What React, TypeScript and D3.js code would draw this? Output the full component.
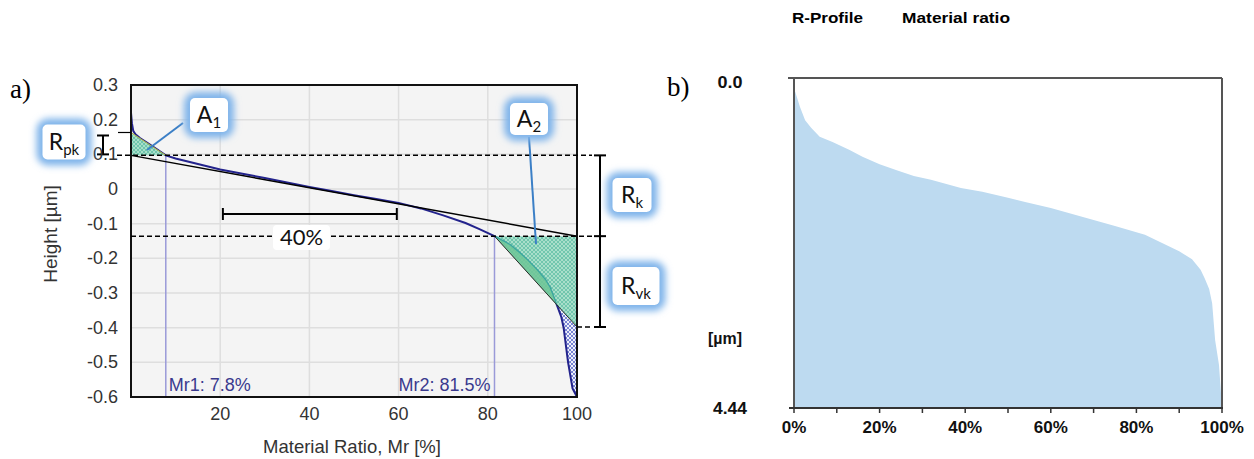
import React from 'react';
import * as d3 from 'd3';

// ---- panel a: Abbott-Firestone curve
const heightTicks = [0.3, 0.2, 0.1, 0, -0.1, -0.2, -0.3, -0.4, -0.5, -0.6];
const ratioTicks = [20, 40, 60, 80, 100];
const abbottMr = [0, 0.2, 0.5, 1, 2, 4, 6, 7.8, 10, 15, 20, 25, 30, 35, 40, 45, 50, 55, 60, 65, 70, 75, 78, 81.5, 85, 87.2, 89, 91, 93, 94, 95.5, 96.5, 97, 98, 99, 99.6, 100];
const abbottHeight = [0.22, 0.19, 0.168, 0.158, 0.147, 0.130, 0.113, 0.097, 0.088, 0.072, 0.056, 0.044, 0.032, 0.019, 0.006, -0.006, -0.018, -0.029, -0.040, -0.056, -0.076, -0.098, -0.115, -0.136, -0.160, -0.184, -0.205, -0.232, -0.262, -0.284, -0.335, -0.37, -0.40, -0.50, -0.575, -0.59, -0.60];
const mr1 = 7.8;
const mr2 = 81.5;
const crossMr = 95.5; // where the A2 hypotenuse meets the curve
const rpkTop = 0.163;
const rkTop = 0.097;
const rkBottom = -0.136;
const rvkBottom = -0.398;
const spanStart = 20.6;
const spanEnd = 59.6;

// ---- panel b: material ratio of the R-profile
const ratioB = [0, 0.3, 1.4, 2.6, 4, 6, 9, 13, 16, 20, 24, 28, 32, 39, 44, 50, 54, 60, 65, 70, 75, 82, 86, 90, 93, 95, 96, 97, 97.7, 98.4, 99.3, 99.8, 100];
const depthB = [0.16, 0.19, 0.39, 0.57, 0.67, 0.79, 0.86, 0.97, 1.06, 1.16, 1.24, 1.32, 1.37, 1.48, 1.53, 1.61, 1.67, 1.75, 1.83, 1.91, 1.99, 2.11, 2.22, 2.33, 2.44, 2.58, 2.70, 2.84, 3.03, 3.53, 3.86, 4.27, 4.44];
const percentTicks = [0, 20, 40, 60, 80, 100];
const minorTicks = [0, 10, 20, 30, 40, 50, 60, 70, 80, 90, 100];

const axisFont = '"Liberation Sans", Arial, sans-serif';
const calloutFont = 'Lato, "Open Sans", sans-serif';
const narrowFont = '"Liberation Sans Narrow", "Liberation Sans", Arial, sans-serif';

function Callout({ cx, cy, w, h, main, sub }) {
  return (
    <g>
      <rect x={cx - w / 2 - 6} y={cy - h / 2 - 6} width={w + 12} height={h + 12} rx={12}
        fill="#7fb4ea" filter="url(#glow)" />
      <rect x={cx - w / 2} y={cy - h / 2} width={w} height={h} rx={5} fill="#fff" />
      <text x={cx} y={cy + 8} textAnchor="middle" fontFamily={calloutFont} fontSize={23} fill="#111">
        {main}
        <tspan fontSize={15} dy={5}>{sub}</tspan>
      </text>
    </g>
  );
}

export default function App() {
  const xA = d3.scaleLinear().domain([0, 100]).range([131, 577]);
  const yA = d3.scaleLinear().domain([-0.6, 0.3]).range([397, 85]);
  const xB = d3.scaleLinear().domain([0, 100]).range([794, 1222]);
  const yB = d3.scaleLinear().domain([0, 4.44]).range([78, 408]);

  const pts = abbottMr.map((m, i) => [m, abbottHeight[i]]);
  const line = d3.line().x(d => xA(d[0])).y(d => yA(d[1]));
  const wedge = pts.filter(d => d[0] >= mr2 && d[0] <= crossMr);
  const tail = pts.filter(d => d[0] >= crossMr).concat([[100, rvkBottom]]);

  const areaB = d3.area()
    .x(d => xB(d[0]))
    .y0(yB(4.44))
    .y1(d => yB(d[1]));
  const ptsB = ratioB.map((m, i) => [m, depthB[i]]);

  const x0 = xA(0), x100 = xA(100);
  const bx = 600;

  return (
    <svg width={1254} height={459} style={{ position: 'absolute', left: 0, top: 0, background: '#fff' }}>
      <defs>
        <filter id="glow" x="-50%" y="-50%" width="200%" height="200%">
          <feGaussianBlur stdDeviation="3.5" />
        </filter>
        <pattern id="hatchGreen" width="4" height="4" patternUnits="userSpaceOnUse">
          <rect width="4" height="4" fill="#9fdcc4" />
          <path d="M0,0 L4,4 M4,0 L0,4" stroke="#4fb99c" strokeWidth="0.8" />
        </pattern>
        <pattern id="hatchBlue" width="4" height="4" patternUnits="userSpaceOnUse">
          <rect width="4" height="4" fill="#eef0fa" />
          <path d="M0,0 L4,4 M4,0 L0,4" stroke="#5a68c8" strokeWidth="0.8" />
        </pattern>
      </defs>

      {/* ---------- panel a ---------- */}
      <text x={10} y={98} fontFamily='"Liberation Serif", "Times New Roman", serif' fontSize={27}>a)</text>
      <rect x={x0} y={yA(0.3)} width={x100 - x0} height={yA(-0.6) - yA(0.3)} fill="#f4f4f4" />
      {heightTicks.slice(1, -1).map(t => (
        <line key={'hg' + t} x1={x0} x2={x100} y1={yA(t)} y2={yA(t)} stroke="#dedede" strokeWidth={1.5} />
      ))}
      {ratioTicks.slice(0, -1).map(t => (
        <line key={'vg' + t} x1={xA(t)} x2={xA(t)} y1={yA(0.3)} y2={yA(-0.6)} stroke="#dedede" strokeWidth={1.5} />
      ))}

      {/* Mr markers */}
      <line x1={xA(mr1)} x2={xA(mr1)} y1={yA(rkTop)} y2={yA(-0.6)} stroke="#9a9ad8" strokeWidth={1.5} />
      <line x1={xA(mr2)} x2={xA(mr2)} y1={yA(rkBottom)} y2={yA(-0.6)} stroke="#9a9ad8" strokeWidth={1.5} />

      {/* hatched area under the tail */}
      <path d={line(tail) + 'Z'} fill="url(#hatchBlue)" />

      {/* Abbott curve */}
      <path d={line(pts)} fill="none" stroke="#23238c" strokeWidth={2} />

      {/* A1 and A2 triangles */}
      <path d={line([[0, rpkTop], [0, rkTop], [mr1, rkTop]]) + 'Z'} fill="url(#hatchGreen)" opacity={0.9} />
      <line x1={xA(0)} y1={yA(rpkTop)} x2={xA(mr1)} y2={yA(rkTop)} stroke="#b8b840" strokeWidth={1} />
      <path d={line([[mr2, rkBottom], [100, rkBottom], [100, rvkBottom]]) + 'Z'} fill="url(#hatchGreen)" opacity={0.88} />
      <path d={line(wedge) + 'Z'} fill="#6fc597" opacity={0.85} />
      <path d={line(wedge)} fill="none" stroke="#3aa8a0" strokeWidth={1.2} />
      <line x1={xA(mr2)} y1={yA(rkBottom)} x2={xA(100)} y2={yA(rvkBottom)} stroke="#2b2b2b" strokeWidth={1} />

      {/* equivalent straight line */}
      <line x1={xA(0)} y1={yA(rkTop)} x2={xA(100)} y2={yA(rkBottom)} stroke="#000" strokeWidth={1.5} />

      {/* frame */}
      <rect x={x0} y={yA(0.3)} width={x100 - x0} height={yA(-0.6) - yA(0.3)} fill="none" stroke="#111" strokeWidth={2} />

      {/* dashed levels and brackets */}
      <line x1={117} x2={592} y1={yA(rkTop)} y2={yA(rkTop)} stroke="#000" strokeWidth={1.5} strokeDasharray="5 3" />
      <line x1={x0} x2={592} y1={yA(rkBottom)} y2={yA(rkBottom)} stroke="#000" strokeWidth={1.5} strokeDasharray="5 3" />
      <line x1={x100} x2={592} y1={yA(rvkBottom)} y2={yA(rvkBottom)} stroke="#000" strokeWidth={1.5} strokeDasharray="5 3" />
      <line x1={bx} x2={bx} y1={yA(rkTop)} y2={yA(rvkBottom)} stroke="#000" strokeWidth={2} />
      {[rkTop, rkBottom, rvkBottom].map(v => (
        <line key={'bt' + v} x1={bx - 6} x2={bx + 6} y1={yA(v)} y2={yA(v)} stroke="#000" strokeWidth={2} />
      ))}
      <line x1={118} x2={x0} y1={yA(rpkTop)} y2={yA(rpkTop)} stroke="#000" strokeWidth={1.2} />
      <line x1={103} x2={103} y1={yA(rpkTop) + 3} y2={yA(rkTop) - 1} stroke="#000" strokeWidth={2} />
      <line x1={97} x2={109} y1={yA(rpkTop) + 3} y2={yA(rpkTop) + 3} stroke="#000" strokeWidth={2} />
      <line x1={97} x2={109} y1={yA(rkTop) - 1} y2={yA(rkTop) - 1} stroke="#000" strokeWidth={2} />

      {/* 40% span */}
      <line x1={xA(spanStart)} x2={xA(spanEnd)} y1={214} y2={214} stroke="#000" strokeWidth={2} />
      <line x1={xA(spanStart)} x2={xA(spanStart)} y1={208} y2={220} stroke="#000" strokeWidth={2} />
      <line x1={xA(spanEnd)} x2={xA(spanEnd)} y1={208} y2={220} stroke="#000" strokeWidth={2} />
      <rect x={273} y={225} width={57} height={25} rx={4} fill="#fff" />
      <text x={301.5} y={245} textAnchor="middle" fontFamily={calloutFont} fontSize={22} fill="#111">40%</text>

      {/* Mr labels */}
      <text x={xA(mr1) + 3} y={391} fontFamily={axisFont} fontSize={18} fill="#3a3a8e">Mr1: 7.8%</text>
      <text x={xA(mr2) - 4} y={391} textAnchor="end" fontFamily={axisFont} fontSize={18} fill="#3a3a8e">Mr2: 81.5%</text>

      {/* axes labels */}
      {heightTicks.map(t => (
        <text key={'yt' + t} x={118} y={yA(t) + 6} textAnchor="end" fontFamily={axisFont} fontSize={18} fill="#333">
          {t === 0 ? '0' : d3.format('.1f')(t).replace('\u2212', '-')}
        </text>
      ))}
      {ratioTicks.map(t => (
        <text key={'xt' + t} x={xA(t)} y={420} textAnchor="middle" fontFamily={axisFont} fontSize={18} fill="#333">{t}</text>
      ))}
      <text x={352} y={453} textAnchor="middle" fontFamily={axisFont} fontSize={18.5} fill="#333">Material Ratio, Mr [%]</text>
      <text transform="translate(57,234) rotate(-90)" textAnchor="middle" fontFamily={axisFont} fontSize={19} fill="#333">Height [µm]</text>

      {/* leaders and callouts */}
      <line x1={183} y1={123} x2={147} y2={150} stroke="#3b7fc6" strokeWidth={2} />
      <line x1={529} y1={137} x2={536} y2={244} stroke="#3b7fc6" strokeWidth={2} />
      <Callout cx={209} cy={115} w={38} h={34} main="A" sub="1" />
      <Callout cx={529} cy={119} w={38} h={32} main="A" sub="2" />
      <Callout cx={64} cy={142} w={43} h={35} main="R" sub="pk" />
      <Callout cx={632} cy={195} w={39} h={34} main="R" sub="k" />
      <Callout cx={636} cy={286} w={47} h={38} main="R" sub="vk" />

      {/* ---------- panel b ---------- */}
      <text x={667} y={96} fontFamily='"Liberation Serif", "Times New Roman", serif' fontSize={27}>b)</text>
      <text x={792} y={23} fontFamily={narrowFont} fontWeight="bold" fontSize={15} textLength={71} lengthAdjust="spacingAndGlyphs">R-Profile</text>
      <text x={902} y={23} fontFamily={narrowFont} fontWeight="bold" fontSize={15} textLength={108} lengthAdjust="spacingAndGlyphs">Material ratio</text>

      <path d={areaB(ptsB)} fill="#bddaf0" />
      <line x1={788} x2={1222} y1={yB(0)} y2={yB(0)} stroke="#555" strokeWidth={2} />
      <line x1={xB(0)} x2={xB(0)} y1={yB(0)} y2={yB(4.44)} stroke="#555" strokeWidth={2} />
      <line x1={xB(100)} x2={xB(100)} y1={yB(0)} y2={yB(4.44)} stroke="#555" strokeWidth={2} />
      <line x1={789} x2={1223} y1={yB(4.44)} y2={yB(4.44)} stroke="#333" strokeWidth={2} />
      {minorTicks.map(t => (
        <line key={'mt' + t} x1={xB(t)} x2={xB(t)} y1={yB(4.44)} y2={yB(4.44) + 5} stroke="#333" strokeWidth={1.5} />
      ))}
      {percentTicks.map(t => (
        <text key={'pt' + t} x={xB(t)} y={433} textAnchor="middle" fontFamily={narrowFont} fontWeight="bold" fontSize={17} fill="#111">{t}%</text>
      ))}
      <text x={730} y={88} textAnchor="middle" fontFamily={narrowFont} fontWeight="bold" fontSize={16} fill="#111" textLength={25} lengthAdjust="spacingAndGlyphs">0.0</text>
      <text x={725} y={344} textAnchor="middle" fontFamily={narrowFont} fontWeight="bold" fontSize={16} fill="#111" textLength={34} lengthAdjust="spacingAndGlyphs">[µm]</text>
      <text x={730} y={414} textAnchor="middle" fontFamily={narrowFont} fontWeight="bold" fontSize={16} fill="#111" textLength={34} lengthAdjust="spacingAndGlyphs">4.44</text>
    </svg>
  );
}
